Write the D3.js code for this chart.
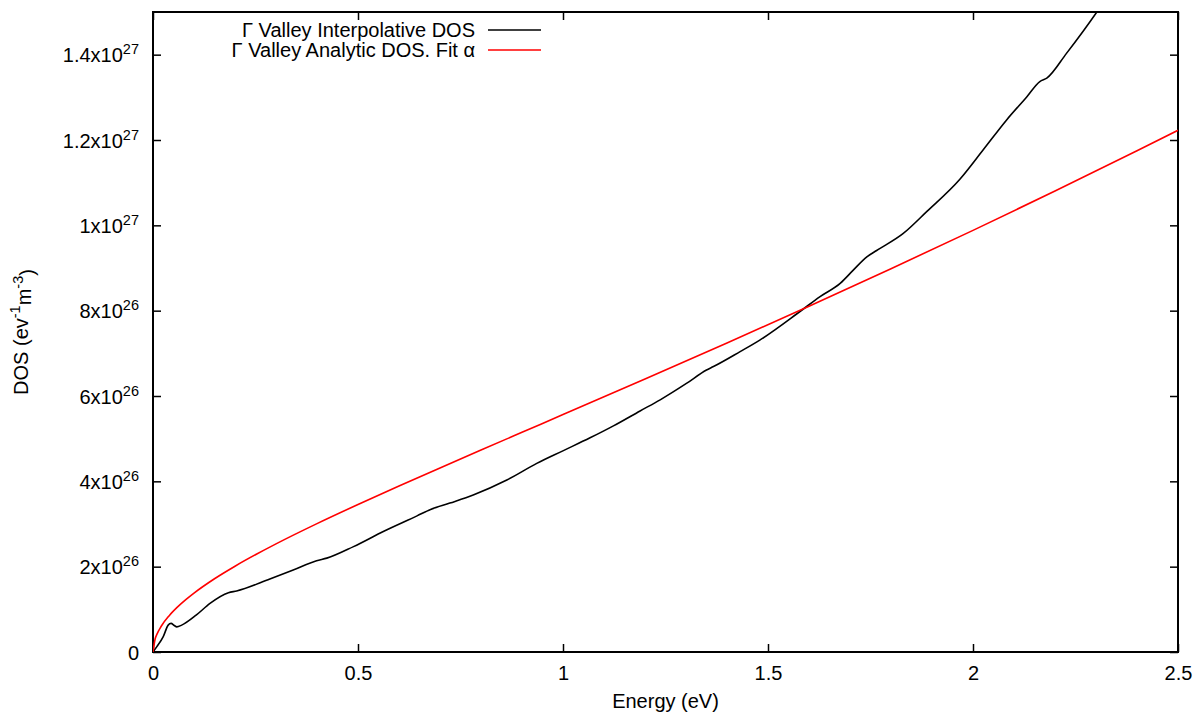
<!DOCTYPE html>
<html>
<head>
<meta charset="utf-8">
<script src="https://cdn.jsdelivr.net/npm/d3@7"></script>
<style>
  body { margin: 0; background: #fff; }
  svg { display: block; }
  text { font-family: "Liberation Sans", Arial, Helvetica, sans-serif; fill: #000; }
</style>
</head>
<body>
<svg id="chart" width="1197" height="715"></svg>
<script>
// ---- data (DOS values in units of 1e26 eV^-1 m^-3) ----
const interpEnergy = [0, 0.009, 0.025, 0.037, 0.044, 0.052, 0.058, 0.07, 0.106, 0.139, 0.184, 0.204, 0.285, 0.342, 0.399, 0.424, 0.489, 0.563, 0.644, 0.677, 0.724, 0.781, 0.863, 0.936, 1.001, 1.066, 1.123, 1.188, 1.237, 1.302, 1.350, 1.367, 1.432, 1.480, 1.578, 1.627, 1.676, 1.708, 1.741, 1.765, 1.830, 1.887, 1.968, 2.025, 2.082, 2.131, 2.163, 2.180, 2.228, 2.302, 2.33];
const interpDOS    = [0, 0.12, 0.36, 0.63, 0.67, 0.62, 0.59, 0.63, 0.87, 1.14, 1.39, 1.43, 1.71, 1.92, 2.14, 2.20, 2.47, 2.83, 3.19, 3.34, 3.49, 3.68, 4.03, 4.42, 4.72, 5.02, 5.30, 5.65, 5.91, 6.30, 6.61, 6.69, 7.04, 7.31, 7.98, 8.33, 8.64, 8.95, 9.26, 9.41, 9.81, 10.32, 11.08, 11.77, 12.47, 13.01, 13.37, 13.45, 14.03, 15.0, 15.4];

const analyticEnergy = [0, 0.005, 0.01, 0.02, 0.04, 0.06, 0.08, 0.1, 0.15, 0.2, 0.3, 0.4, 0.5, 0.6, 0.7, 0.8, 0.9, 1.0, 1.2, 1.4, 1.6, 1.8, 2.0, 2.2, 2.4, 2.5];
const analyticDOS    = [0, 0.300, 0.425, 0.603, 0.858, 1.057, 1.228, 1.381, 1.717, 2.011, 2.534, 3.009, 3.457, 3.890, 4.314, 4.733, 5.149, 5.564, 6.399, 7.244, 8.104, 8.983, 9.882, 10.804, 11.749, 12.228];

const xTickValues = [0, 0.5, 1, 1.5, 2, 2.5];
const xTickLabels = ["0", "0.5", "1", "1.5", "2", "2.5"];
const yTickValues = [0, 2, 4, 6, 8, 10, 12, 14];
const yTickMantissa = ["0", "2", "4", "6", "8", "1", "1.2", "1.4"];
const yTickExponent = ["", "26", "26", "26", "26", "27", "27", "27"];

const seriesNames = ["\u0393 Valley Interpolative DOS", "\u0393 Valley Analytic DOS. Fit \u03b1"];
const seriesColors = ["#000000", "#ff0000"];

// ---- layout ----
const pL = 153, pT = 12, pR = 1178, pB = 652;
const svg = d3.select("#chart");
const FS = 20, SUP = 14.5;

const x = d3.scaleLinear().domain([0, 2.5]).range([pL, pR]);
const y = d3.scaleLinear().domain([0, 15]).range([pB, pT]);

// clip
svg.append("defs").append("clipPath").attr("id", "clip")
  .append("rect").attr("x", pL).attr("y", pT).attr("width", pR - pL).attr("height", pB - pT);

// axes with inward ticks
const gx = svg.append("g").attr("transform", `translate(0,${pB})`)
  .call(d3.axisBottom(x).tickValues(xTickValues).tickSize(-8).tickPadding(14)
    .tickFormat((d, i) => xTickLabels[i]));
const gxTop = svg.append("g").attr("transform", `translate(0,${pT})`)
  .call(d3.axisTop(x).tickValues(xTickValues).tickSize(-8).tickFormat(""));
const gy = svg.append("g").attr("transform", `translate(${pL},0)`)
  .call(d3.axisLeft(y).tickValues(yTickValues).tickSize(-8).tickPadding(13).tickFormat(""));
const gyR = svg.append("g").attr("transform", `translate(${pR},0)`)
  .call(d3.axisRight(y).tickValues(yTickValues).tickSize(-8).tickFormat(""));

[gx, gxTop, gy, gyR].forEach(g => {
  g.select(".domain").remove();
  g.selectAll(".tick line").attr("stroke", "#000").attr("stroke-width", 1.5);
});
gx.selectAll(".tick text").attr("font-size", FS).attr("font-family", "Liberation Sans, Arial, sans-serif").attr("dy", "0.71em");

// y tick labels with superscripts
gy.selectAll(".tick text").each(function(d, i) {
  const t = d3.select(this);
  t.attr("font-size", FS).attr("font-family", "Liberation Sans, Arial, sans-serif").attr("dy", "0.35em").attr("x", -14);
  t.text(null);
  if (yTickExponent[i] === "") {
    t.append("tspan").text(yTickMantissa[i]);
  } else {
    t.append("tspan").text(yTickMantissa[i] + "x10");
    t.append("tspan").attr("font-size", SUP).attr("dy", "-0.55em").text(yTickExponent[i]);
  }
});

// frame
svg.append("rect").attr("x", pL).attr("y", pT).attr("width", pR - pL).attr("height", pB - pT)
  .attr("fill", "none").attr("stroke", "#000").attr("stroke-width", 2);

// lines
const line = d3.line().x(d => x(d[0])).y(d => y(d[1])).curve(d3.curveMonotoneX);
const plot = svg.append("g").attr("clip-path", "url(#clip)");
plot.append("path").datum(interpEnergy.map((e, i) => [e, interpDOS[i]]))
  .attr("d", line).attr("fill", "none").attr("stroke", seriesColors[0]).attr("stroke-width", 1.6);
plot.append("path").datum(analyticEnergy.map((e, i) => [e, analyticDOS[i]]))
  .attr("d", line).attr("fill", "none").attr("stroke", seriesColors[1]).attr("stroke-width", 1.6);

// legend
seriesNames.forEach((name, i) => {
  const ly = 30 + i * 20;
  svg.append("text").attr("x", 475).attr("y", ly).attr("dy", "0.35em")
    .attr("text-anchor", "end").attr("font-size", FS).text(name);
  svg.append("line").attr("x1", 488).attr("x2", 541).attr("y1", ly).attr("y2", ly)
    .attr("stroke", seriesColors[i]).attr("stroke-width", 1.6);
});

// axis titles
svg.append("text").attr("x", (pL + pR) / 2).attr("y", 708).attr("text-anchor", "middle")
  .attr("font-size", FS).text("Energy (eV)");
const yt = svg.append("text").attr("transform", `translate(28,${(pT + pB) / 2}) rotate(-90)`)
  .attr("text-anchor", "middle").attr("font-size", FS);
yt.append("tspan").text("DOS (ev");
yt.append("tspan").attr("font-size", SUP).attr("dy", "-0.55em").text("-1");
yt.append("tspan").attr("dy", "0.55em").text("m");
yt.append("tspan").attr("font-size", SUP).attr("dy", "-0.55em").text("-3");
yt.append("tspan").attr("dy", "0.55em").text(")");
</script>
</body>
</html>
